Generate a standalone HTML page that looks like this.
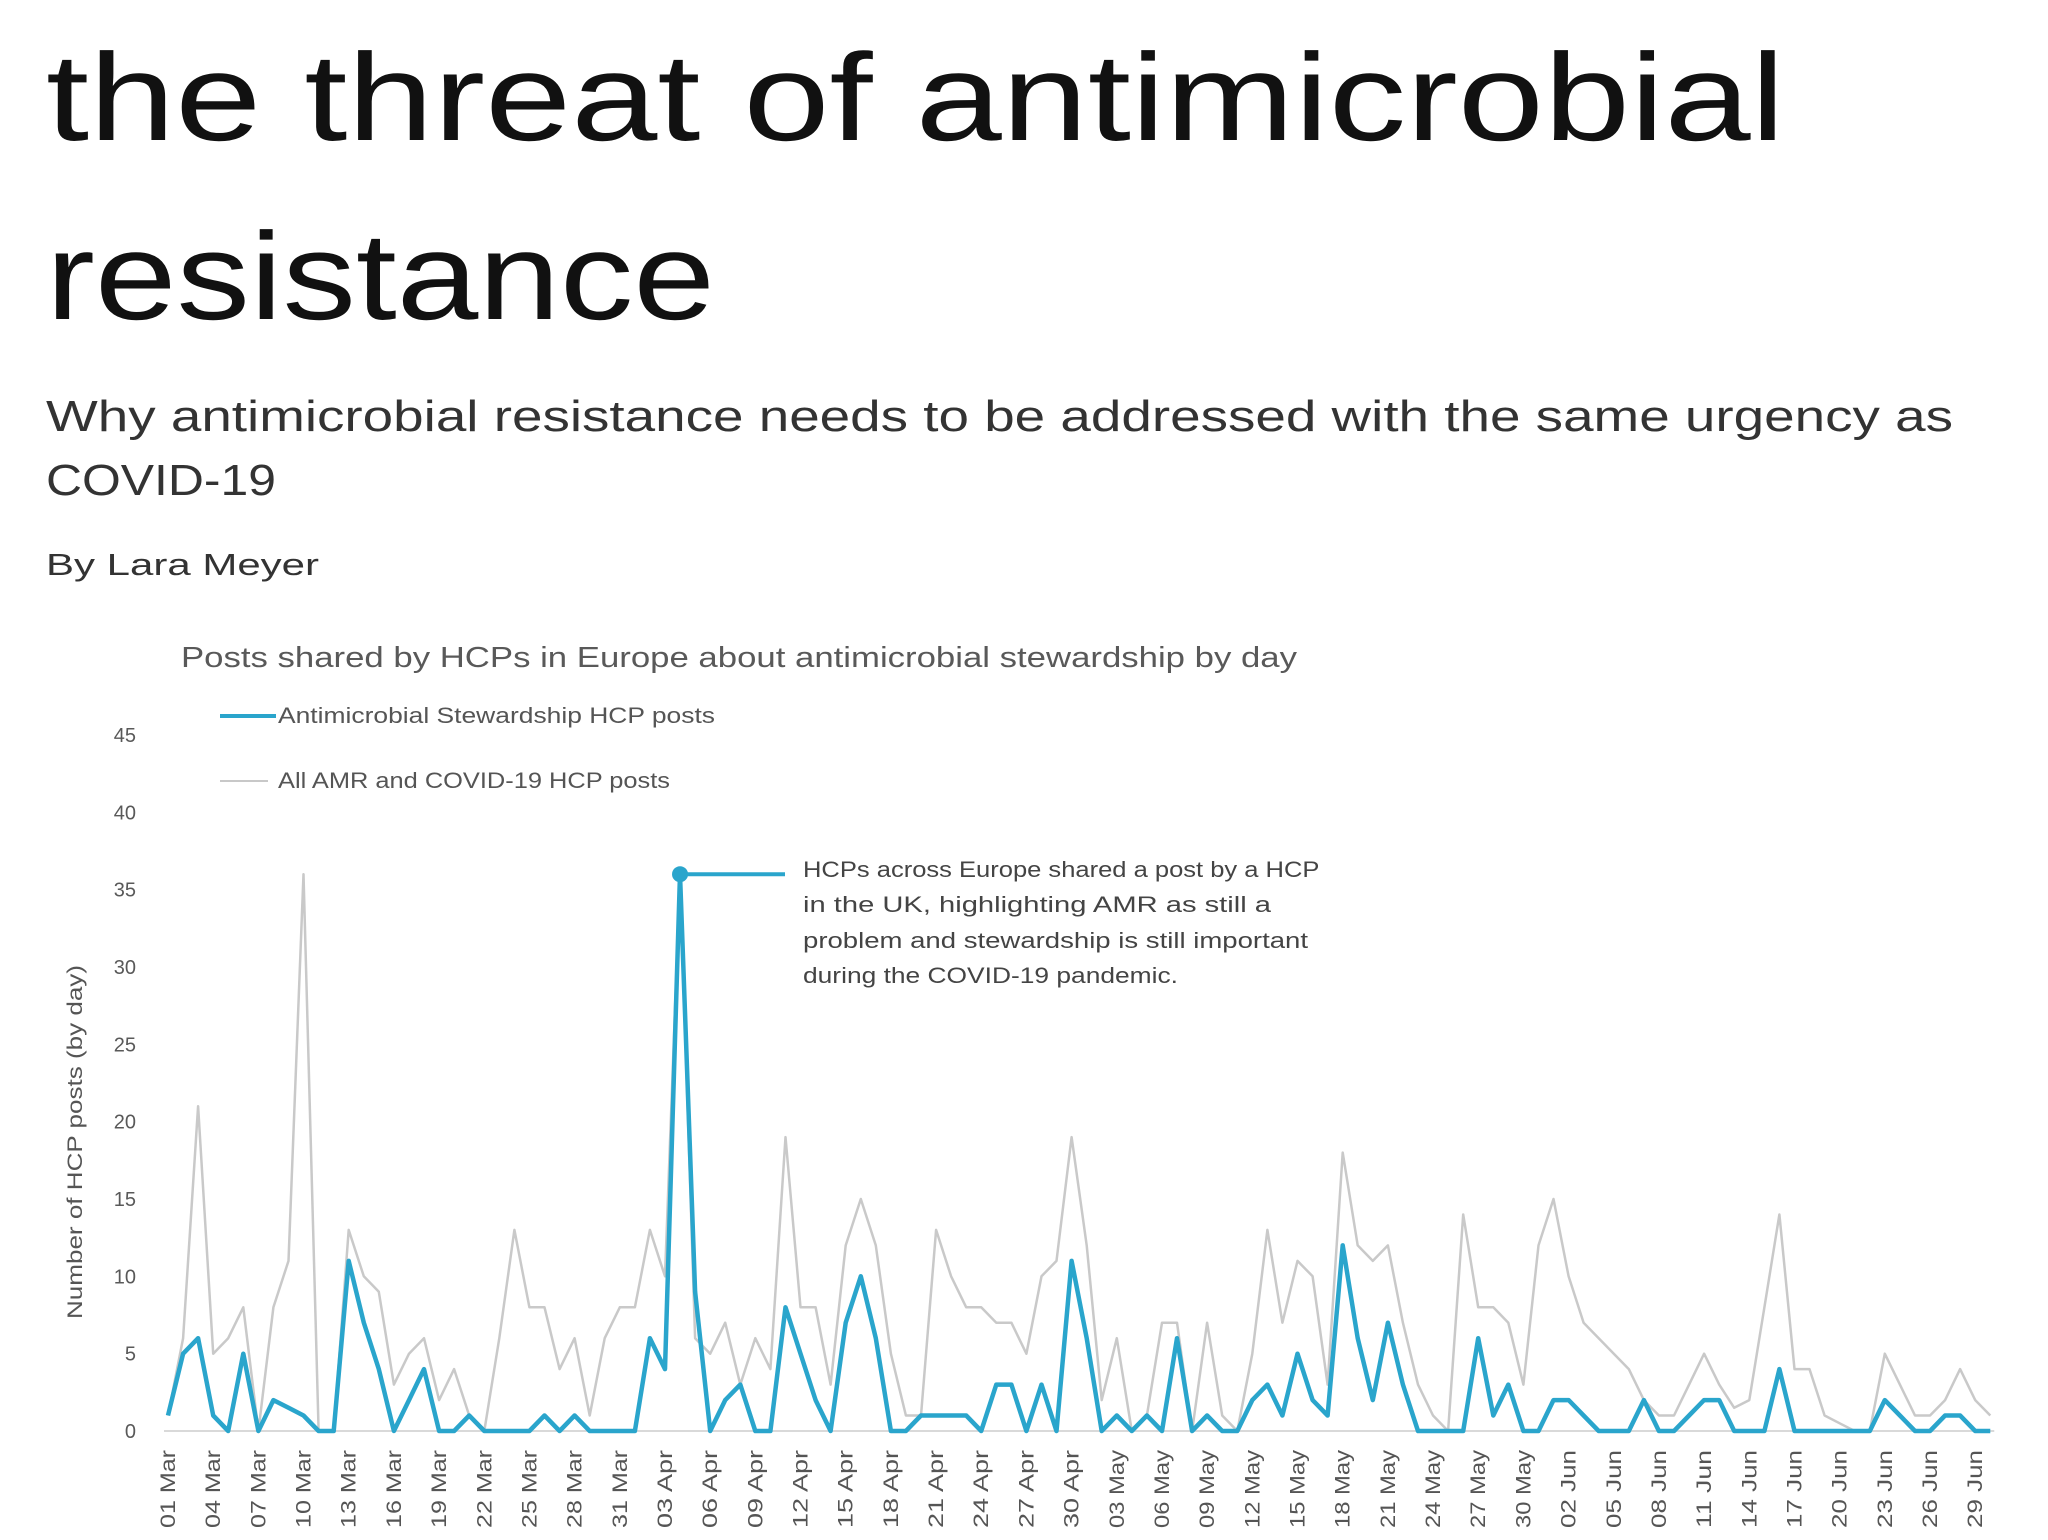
<!DOCTYPE html>
<html><head><meta charset="utf-8"><style>
html,body{margin:0;padding:0;background:#fff;width:2048px;height:1540px;overflow:hidden}
svg{display:block}
</style></head><body>
<svg id="page" width="2048" height="1540" viewBox="0 0 2048 1540" xmlns="http://www.w3.org/2000/svg" font-family="Liberation Sans, sans-serif">
<text x="46" y="140" font-size="124" fill="#111" textLength="1739" lengthAdjust="spacingAndGlyphs">the threat of antimicrobial</text>
<text x="46" y="319" font-size="124" fill="#111" textLength="669" lengthAdjust="spacingAndGlyphs">resistance</text>
<text x="46" y="431" font-size="44" fill="#333" textLength="1907" lengthAdjust="spacingAndGlyphs">Why antimicrobial resistance needs to be addressed with the same urgency as</text>
<text x="46" y="495" font-size="44" fill="#333" textLength="230" lengthAdjust="spacingAndGlyphs">COVID-19</text>
<text x="46" y="575" font-size="31" fill="#333" textLength="273" lengthAdjust="spacingAndGlyphs">By Lara Meyer</text>
<g id="chart">
<text x="181" y="667" font-size="29" fill="#595959" textLength="1116" lengthAdjust="spacingAndGlyphs">Posts shared by HCPs in Europe about antimicrobial stewardship by day</text>
<line x1="220" y1="716" x2="276" y2="716" stroke="#2aa5cc" stroke-width="4"/>
<text x="278" y="723" font-size="22" fill="#555" textLength="437" lengthAdjust="spacingAndGlyphs">Antimicrobial Stewardship HCP posts</text>
<line x1="220" y1="781" x2="268" y2="781" stroke="#c8c8c8" stroke-width="2"/>
<text x="278" y="788" font-size="22" fill="#555" textLength="392" lengthAdjust="spacingAndGlyphs">All AMR and COVID-19 HCP posts</text>
<text transform="translate(82,1142) rotate(-90)" text-anchor="middle" font-size="21" fill="#555" textLength="354" lengthAdjust="spacingAndGlyphs">Number of HCP posts (by day)</text>
<g id="yticks"></g><g id="xticks"></g>
<g id="series"></g>
<g>
<text font-size="22" fill="#444">
<tspan x="803" y="877" textLength="516" lengthAdjust="spacingAndGlyphs">HCPs across Europe shared a post by a HCP</tspan>
<tspan x="803" y="912" textLength="468" lengthAdjust="spacingAndGlyphs">in the UK, highlighting AMR as still a</tspan>
<tspan x="803" y="948" textLength="505" lengthAdjust="spacingAndGlyphs">problem and stewardship is still important</tspan>
<tspan x="803" y="983" textLength="375" lengthAdjust="spacingAndGlyphs">during the COVID-19 pandemic.</tspan>
</text>
</g>
</g>
</svg>
<script>
const categoriesTickLabels = ["01 Mar","04 Mar","07 Mar","10 Mar","13 Mar","16 Mar","19 Mar","22 Mar","25 Mar","28 Mar","31 Mar","03 Apr","06 Apr","09 Apr","12 Apr","15 Apr","18 Apr","21 Apr","24 Apr","27 Apr","30 Apr","03 May","06 May","09 May","12 May","15 May","18 May","21 May","24 May","27 May","30 May","02 Jun","05 Jun","08 Jun","11 Jun","14 Jun","17 Jun","20 Jun","23 Jun","26 Jun","29 Jun"];
const yTicks = [0,5,10,15,20,25,30,35,40,45];
const stewardshipPosts = [1,5,6,1,0,5,0,2,1.5,1,0,0,11,7,4,0,2,4,0,0,1,0,0,0,0,1,0,1,0,0,0,0,6,4,36,9,0,2,3,0,0,8,5,2,0,7,10,6,0,0,1,1,1,1,0,3,3,0,3,0,11,6,0,1,0,1,0,6,0,1,0,0,2,3,1,5,2,1,12,6,2,7,3,0,0,0,0,6,1,3,0,0,2,2,1,0,0,0,2,0,0,1,2,2,0,0,0,4,0,0,0,0,0,0,2,1,0,0,1,1,0,0];
const allPosts = [1,6,21,5,6,8,0,8,11,36,0,0,13,10,9,3,5,6,2,4,1,0,6,13,8,8,4,6,1,6,8,8,13,10,36,6,5,7,3,6,4,19,8,8,3,12,15,12,5,1,1,13,10,8,8,7,7,5,10,11,19,12,2,6,0,1,7,7,0,7,1,0,5,13,7,11,10,3,18,12,11,12,7,3,1,0,14,8,8,7,3,12,15,10,7,6,5,4,2,1,1,3,5,3,1.5,2,8,14,4,4,1,0.5,0,0,5,3,1,1,2,4,2,1];
const annotationIndex = 34;
const tickEvery = 3;

const NS="http://www.w3.org/2000/svg";
const x0=168, dx=15.06, yBase=1431, yTop=735, yMax=45;
const xs = i => x0 + i*dx;
const ys = v => yBase - v*(yBase-yTop)/yMax;
function mk(tag, attrs, parent){const e=document.createElementNS(NS,tag);for(const k in attrs)e.setAttribute(k,attrs[k]);parent.appendChild(e);return e;}

const yg=document.getElementById('yticks');
yTicks.forEach(v=>{
  const t=mk('text',{x:136,y:ys(v)+7,'text-anchor':'end','font-size':20,fill:'#595959'},yg);
  
  
  t.textContent=v;
});
const base=mk('line',{x1:x0-4,x2:xs(allPosts.length-1)+4,y1:ys(0),y2:ys(0),stroke:'#d9d9d9','stroke-width':2},yg);



const xg=document.getElementById('xticks');
categoriesTickLabels.forEach((lab,k)=>{
  const x=xs(k*tickEvery)+7;
  const t=mk('text',{transform:`translate(${x},1450) rotate(-90)`,'text-anchor':'end','font-size':21,fill:'#555',textLength:78,lengthAdjust:'spacingAndGlyphs'},xg);
  
  
  t.textContent=lab;
});

const sg=document.getElementById('series');
const pts = arr => arr.map((v,i)=>xs(i).toFixed(1)+','+ys(v).toFixed(1)).join(' ');
const gl=mk('polyline',{points:pts(allPosts),fill:'none',stroke:'#c9c9c9','stroke-width':2.5,'stroke-linejoin':'round'},sg);


const bl=mk('polyline',{points:pts(stewardshipPosts),fill:'none',stroke:'#2aa5cc','stroke-width':4.5,'stroke-linejoin':'round'},sg);


const ax=xs(annotationIndex), ay=ys(stewardshipPosts[annotationIndex]);
const al=mk('line',{x1:ax,y1:ay,x2:785,y2:ay,stroke:'#2aa5cc','stroke-width':4},sg);


const dot=mk('circle',{cx:ax,cy:ay,r:8,fill:'#2aa5cc'},sg);


</script>
</body></html>
